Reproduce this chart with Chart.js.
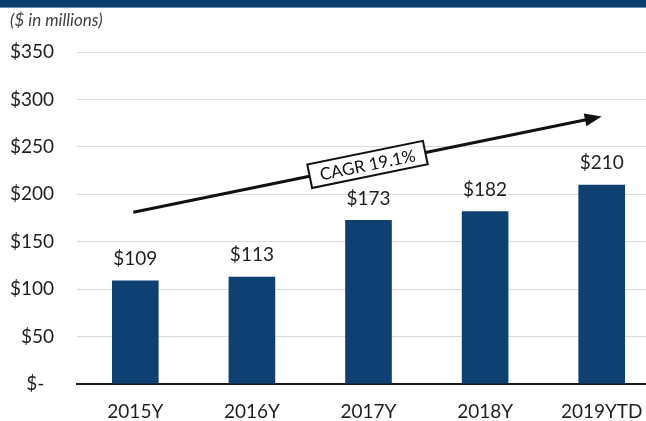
<!DOCTYPE html>
<html>
<head>
<meta charset="utf-8">
<script src="https://cdn.jsdelivr.net/npm/chart.js@4/dist/chart.umd.min.js"></script>
<style>
    html, body { margin: 0; padding: 0; background: #fff; overflow: hidden; }
    .wrap { position: relative; width: 660px; height: 421px; }
    .band { position: absolute; left: 0; top: 0; width: 100%; height: 7px;
            background: #0c3c6c; border-bottom: 1px solid #6b8db3; }
</style>
</head>
<body>
<div class="wrap">
    <canvas id="revenueChart" width="660" height="421"></canvas>
    <div class="band"></div>
</div>
<script>
// ========================================
// Revenue by year ($ in millions)
// ========================================

const years = ['2015Y', '2016Y', '2017Y', '2018Y', '2019YTD'];
const revenue = [109, 113, 173, 182, 210];
const yTicks = [0, 50, 100, 150, 200, 250, 300, 350];

// Growth arrow runs from the first to the last category
const cagrLabel = 'CAGR 19.1%';
const cagrFrom = { index: 0, value: 181 };
const cagrTo = { index: 4, value: 282 };

const FONT = 'Lato, "Liberation Sans", Arial, sans-serif';
const NAVY = '#0e4072';

/**
 * Dollar labels above each bar
 */
const valueLabels = {
    id: 'valueLabels',
    afterDatasetsDraw(chart) {
        const ctx = chart.ctx;
        const meta = chart.getDatasetMeta(0);
        ctx.save();
        ctx.font = `19px ${FONT}`;
        ctx.fillStyle = '#1f1f1f';
        ctx.textAlign = 'center';
        ctx.textBaseline = 'bottom';
        meta.data.forEach((bar, i) => {
            ctx.fillText('$' + revenue[i], bar.x, bar.y - 12);
        });
        ctx.restore();
    }
};

/**
 * Units caption in the top-left corner
 */
const unitsCaption = {
    id: 'unitsCaption',
    afterDraw(chart) {
        const ctx = chart.ctx;
        ctx.save();
        ctx.font = `italic 17px ${FONT}`;
        ctx.fillStyle = '#404040';
        ctx.textAlign = 'left';
        ctx.textBaseline = 'top';
        ctx.fillText('($ in millions)', 10, 12);
        ctx.restore();
    }
};

/**
 * CAGR arrow with a rotated label box in the middle
 */
const cagrArrow = {
    id: 'cagrArrow',
    afterDraw(chart) {
        const { ctx, scales: { x, y } } = chart;
        const x1 = x.getPixelForValue(cagrFrom.index) - 2;
        const y1 = y.getPixelForValue(cagrFrom.value);
        const x2 = x.getPixelForValue(cagrTo.index);
        const y2 = y.getPixelForValue(cagrTo.value);
        const angle = Math.atan2(y2 - y1, x2 - x1);
        const head = 17;

        ctx.save();
        ctx.strokeStyle = '#111';
        ctx.fillStyle = '#111';
        ctx.lineWidth = 3;
        ctx.beginPath();
        ctx.moveTo(x1, y1);
        ctx.lineTo(x2 - head * 0.8 * Math.cos(angle), y2 - head * 0.8 * Math.sin(angle));
        ctx.stroke();

        // arrow head
        ctx.translate(x2, y2);
        ctx.rotate(angle);
        ctx.beginPath();
        ctx.moveTo(0, 0);
        ctx.lineTo(-head, -6.5);
        ctx.lineTo(-head, 6.5);
        ctx.closePath();
        ctx.fill();
        ctx.restore();

        // label box centred on the line
        const t = 0.5;
        const cx = x1 + (x2 - x1) * t;
        const cy = y1 + (y2 - y1) * t;
        ctx.save();
        ctx.translate(cx, cy);
        ctx.rotate(angle);
        ctx.fillStyle = '#fff';
        ctx.strokeStyle = '#111';
        ctx.lineWidth = 2;
        ctx.fillRect(-59, -12, 118, 24);
        ctx.strokeRect(-59, -12, 118, 24);
        ctx.font = `17px ${FONT}`;
        ctx.fillStyle = '#111';
        ctx.textAlign = 'center';
        ctx.textBaseline = 'middle';
        ctx.fillText(cagrLabel, 0, 1);
        ctx.restore();
    }
};

const ctx = document.getElementById('revenueChart').getContext('2d');
const chart = new Chart(ctx, {
    type: 'bar',
    data: {
        labels: years,
        datasets: [{
            data: revenue,
            backgroundColor: NAVY,
            borderWidth: 0,
            barPercentage: 0.4,
            categoryPercentage: 1.0
        }]
    },
    options: {
        responsive: false,
        animation: false,
        layout: { padding: { top: 52, right: 0, bottom: 0, left: 0 } },
        plugins: {
            legend: { display: false },
            tooltip: { enabled: false }
        },
        scales: {
            x: {
                grid: { display: false, drawTicks: false },
                border: { display: true, color: '#1a1a1a', width: 2 },
                ticks: {
                    color: '#1f1f1f',
                    font: { family: FONT, size: 19 },
                    padding: 16,
                    maxRotation: 0
                },
                afterFit(scale) { scale.height = 37; }
            },
            y: {
                min: 0,
                max: 350,
                afterBuildTicks(scale) {
                    scale.ticks = yTicks.map(v => ({ value: v }));
                },
                grid: { color: '#d9d9d9', lineWidth: 1, drawTicks: false },
                border: { display: false },
                ticks: {
                    color: '#1f1f1f',
                    font: { family: FONT, size: 19 },
                    padding: 23,
                    callback: v => v === 0 ? '$-  ' : '$' + v
                },
                afterFit(scale) { scale.width = 77; }
            }
        }
    },
    plugins: [valueLabels, unitsCaption, cagrArrow]
});
</script>
</body>
</html>
